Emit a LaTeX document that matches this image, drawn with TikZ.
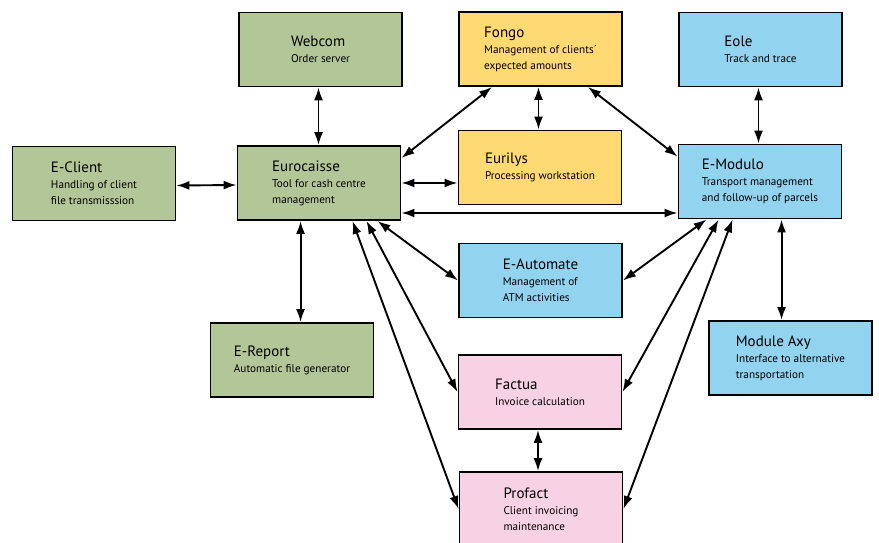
\documentclass[tikz,border=0pt]{standalone}
\usepackage{fontspec}
\setmainfont{PT Sans}
\usepackage{tikz}
\usetikzlibrary{arrows.meta}
\usetikzlibrary{positioning}

\definecolor{boxgreen}{RGB}{179,198,152}
\definecolor{boxyellow}{RGB}{255,217,113}
\definecolor{boxblue}{RGB}{146,211,240}
\definecolor{boxpink}{RGB}{247,210,228}

\newcommand{\subfont}{\fontsize{11.2}{16}\selectfont}
\newcommand{\ttl}[1]{{\fontsize{15}{16}\selectfont #1}}

\begin{document}
\begin{tikzpicture}[x=1pt,y=-1pt,
      sys/.style={draw,line width=1.9pt,minimum width=163pt,minimum height=74pt,
        inner sep=0pt,align=left,font=\subfont},
      grn/.style={sys,fill=boxgreen},
      ylw/.style={sys,fill=boxyellow},
      blu/.style={sys,fill=boxblue},
      pnk/.style={sys,fill=boxpink},
      link/.style={{Latex[length=13pt,width=9pt]}-{Latex[length=13pt,width=9pt]},line width=1.9pt},
    ]
    \useasboundingbox (0,0) rectangle (879,543);
    \clip (0,0) rectangle (879,543);

    % green systems
    \node[grn] (webcom) at (320.5,49.5) {\ttl{Webcom}\\Order server};
    \node[grn] (eclient) at (94,183.5) {\ttl{E-Client}\\Handling of client\\file transmisssion};
    \node[grn] (eurocaisse) at (319,183) {\ttl{Eurocaisse}\\Tool for cash centre\\management};
    \node[grn] (ereport) at (292,360) {\ttl{E-Report}\\Automatic file generator};

    % yellow systems
    \node[ylw] (fongo) at (540.5,49) {\ttl{Fongo}\\Management of clients´\\expected amounts};
    \node[ylw] (eurilys) at (540,167.5) {\ttl{Eurilys}\\Processing workstation};

    % blue systems
    \node[blu] (eole) at (760.5,49.5) {\ttl{Eole}\\Track and trace};
    \node[blu] (emodulo) at (760,181.5) {\ttl{E-Modulo}\\Transport management\\and follow-up of parcels};
    \node[blu] (eautomate) at (540.5,280.5) {\ttl{E-Automate}\\Management of\\ATM activities};
    \node[blu] (moduleaxy) at (790.5,358) {\ttl{Module Axy}\\Interface to alternative\\transportation};

    % pink systems
    \node[pnk] (factua) at (540,392) {\ttl{Factua}\\Invoice calculation};
    \node[pnk] (profact) at (541,509) {\ttl{Profact}\\Client invoicing\\maintenance};

    % links
    \draw[link] ([xshift=-2pt]webcom.south) -- ([xshift=-2pt]webcom.south |- eurocaisse.north);
    \draw[link] ([yshift=-2pt]eclient.east) -- ([yshift=-2pt]eurocaisse.west);
    \draw[link] ([yshift=-13pt]eurocaisse.north east) -- ([xshift=34pt]fongo.south west);
    \draw[link] (eurocaisse.east) -- (eurocaisse.east -| eurilys.west);
    \draw[link] ([yshift=-30pt]eurocaisse.east) -- ([yshift=-30pt]eurocaisse.east -| emodulo.west);
    \draw[link] ([xshift=-2pt]fongo.south) -- ([xshift=-2pt]fongo.south |- eurilys.north);
    \draw[link] ([xshift=-35pt]fongo.south east) -- ([yshift=-13pt]emodulo.north west);
    \draw[link] ([xshift=-2pt]eole.south) -- ([xshift=-2pt]eole.south |- emodulo.north);
    \draw[link] ([xshift=64pt]eurocaisse.south west) -- ([xshift=64pt]eurocaisse.south west |- ereport.north);
    \draw[link] ([xshift=-24pt]eurocaisse.south east) -- (eautomate.west);
    \draw[link] ([xshift=-35pt]eurocaisse.south east) -- (factua.west);
    \draw[link] ([xshift=-49pt]eurocaisse.south east) -- (profact.west);
    \draw[link] ([xshift=29pt]emodulo.south west) -- (eautomate.east);
    \draw[link] ([xshift=41pt]emodulo.south west) -- (factua.east);
    \draw[link] ([xshift=55pt]emodulo.south west) -- (profact.east);
    \draw[link] ([xshift=104pt]emodulo.south west) -- ([xshift=104pt]emodulo.south west |- moduleaxy.north);
    \draw[link] ([xshift=-2pt]factua.south) -- ([xshift=-2pt]factua.south |- profact.north);
\end{tikzpicture}
\end{document}
